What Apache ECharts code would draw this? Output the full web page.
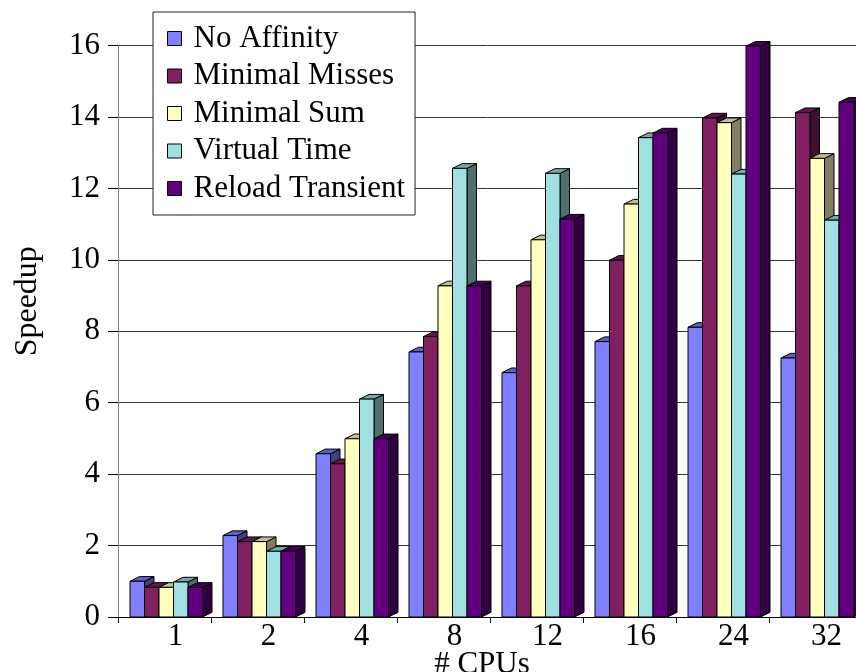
<!DOCTYPE html>
<html>
<head>
<meta charset="utf-8">
<script src="https://cdn.jsdelivr.net/npm/echarts@6/dist/echarts.min.js"></script>
<style>
html,body{margin:0;padding:0;background:#fff;}
#c{width:856px;height:672px;}
</style>
</head>
<body>
<div id="c"></div>
<script>
const categories = ['1', '2', '4', '8', '12', '16', '24', '32'];
const seriesNames = ['No Affinity', 'Minimal Misses', 'Minimal Sum', 'Virtual Time', 'Reload Transient'];
const noAffinity      = [1.00, 2.28, 4.57, 7.42, 6.84, 7.71, 8.11, 7.25];
const minimalMisses   = [0.83, 2.11, 4.29, 7.85, 9.27, 9.99, 13.97, 14.12];
const minimalSum      = [0.83, 2.11, 4.99, 9.27, 10.56, 11.56, 13.84, 12.84];
const virtualTime     = [0.98, 1.84, 6.10, 12.56, 12.42, 13.42, 12.40, 11.11];
const reloadTransient = [0.83, 1.84, 4.99, 9.27, 11.14, 13.55, 15.98, 14.41];
const yTicks = { min: 0, max: 16, interval: 2 };

const allValues = [noAffinity, minimalMisses, minimalSum, virtualTime, reloadTransient];
const frontColors = ['#8080FF', '#802060', '#FFFFC0', '#A0E0E0', '#600080'];
const topColors   = ['#6060C0', '#601848', '#C0C090', '#78A8A8', '#480060'];
const sideColors  = ['#404080', '#401030', '#808060', '#507070', '#300040'];

const DX = 9.5, DY = 4.7;
const GROUP_OFFSET = 12 / 93;
const BAR_FRAC = 14.5 / 93;

function makeRender(si) {
  return function (params, api) {
    const ci = api.value(0);
    const v = api.value(1);
    const base = api.coord([ci, 0]);
    const top = api.coord([ci, v]);
    const bw = api.size([1, 0])[0];
    const w = bw * BAR_FRAC;
    const x0 = base[0] - bw / 2 + bw * GROUP_OFFSET + si * w;
    const x1 = x0 + w;
    const yt = top[1], yb = base[1];
    const stroke = { stroke: '#000', lineWidth: 1, lineJoin: 'miter' };
    return {
      type: 'group',
      children: [
        { type: 'polygon', shape: { points: [[x1, yt], [x1 + DX, yt - DY], [x1 + DX, yb - DY], [x1, yb]] },
          style: Object.assign({ fill: sideColors[si] }, stroke) },
        { type: 'polygon', shape: { points: [[x0, yt], [x0 + DX, yt - DY], [x1 + DX, yt - DY], [x1, yt]] },
          style: Object.assign({ fill: topColors[si] }, stroke) },
        { type: 'rect', shape: { x: x0, y: yt, width: w, height: yb - yt },
          style: Object.assign({ fill: frontColors[si] }, stroke) }
      ]
    };
  };
}

const FONT = 'Liberation Serif, Times New Roman, serif';
const chart = echarts.init(document.getElementById('c'), null, { renderer: 'canvas' });
chart.setOption({
  animation: false,
  backgroundColor: '#fff',
  grid: { left: 118, top: 45.5, width: 744, height: 571.5, containLabel: false, outerBoundsMode: 'none' },
  legend: {
    data: seriesNames,
    orient: 'vertical',
    left: 153, top: 12,
    icon: 'rect',
    itemWidth: 14, itemHeight: 14, itemGap: 6.5,
    padding: [11, 10, 11, 14],
    backgroundColor: '#fff',
    borderColor: '#222', borderWidth: 1,
    itemStyle: { borderColor: '#000', borderWidth: 1 },
    textStyle: { fontFamily: FONT, fontSize: 31, color: '#000', lineHeight: 30, padding: [0, 0, 0, 7] }
  },
  xAxis: {
    type: 'category',
    data: categories,
    name: '# CPUs',
    nameLocation: 'middle',
    nameGap: 32,
    nameMoveOverlap: false,
    nameTextStyle: { fontFamily: FONT, fontSize: 31, color: '#000', padding: [0, 16, 0, 0] },
    axisLine: { lineStyle: { color: '#000', width: 1 } },
    axisTick: { show: true, length: 6, lineStyle: { color: '#000' } },
    axisLabel: { fontFamily: FONT, fontSize: 31, color: '#000', margin: 4, padding: [0, 0, 0, 22] },
    splitLine: { show: false }
  },
  yAxis: {
    type: 'value',
    min: yTicks.min, max: yTicks.max, interval: yTicks.interval,
    name: 'Speedup',
    nameLocation: 'middle',
    nameGap: 74,
    nameMoveOverlap: false,
    nameTextStyle: { fontFamily: FONT, fontSize: 32, color: '#000', padding: [0, 0, 0, 60] },
    axisLine: { show: true, lineStyle: { color: '#808080', width: 1 } },
    axisTick: { show: true, length: 10, lineStyle: { color: '#000' } },
    axisLabel: { fontFamily: FONT, fontSize: 31, color: '#000', margin: 18 },
    splitLine: { show: true, lineStyle: { color: '#333', width: 1 } }
  },
  series: seriesNames.map((name, si) => ({
    type: 'custom',
    name: name,
    renderItem: makeRender(si),
    itemStyle: { color: frontColors[si] },
    encode: { x: 0, y: 1 },
    clip: false,
    data: categories.map((c, ci) => [ci, allValues[si][ci]])
  }))
});
</script>
</body>
</html>
